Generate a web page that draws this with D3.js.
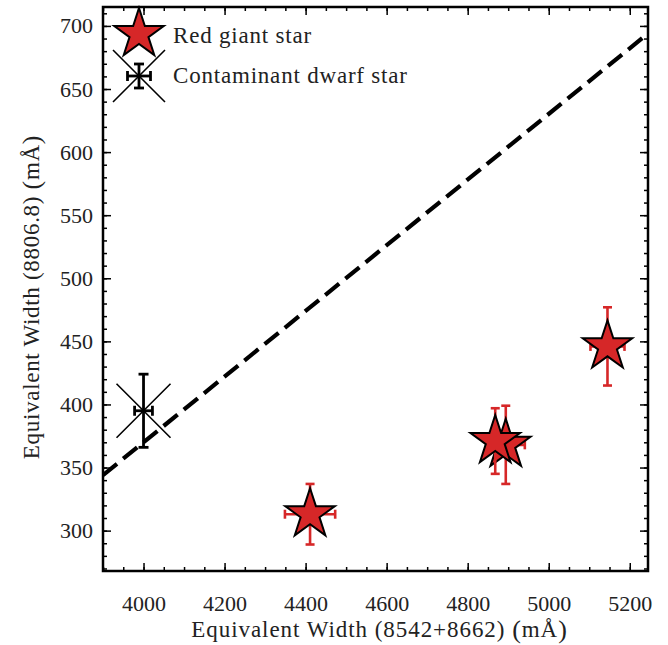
<!DOCTYPE html>
<html>
<head>
<meta charset="utf-8">
<script src="https://cdn.jsdelivr.net/npm/d3@7"></script>
<style>
  body { margin: 0; background: #fff; }
  text { font-family: "Liberation Serif", "Times New Roman", serif; fill: #222; }
</style>
</head>
<body>
<svg id="chart" width="668" height="645"></svg>
<script>
// red giant stars (drawn in this order)
var giantEW = [4411, 4894, 4868, 5145];
var giantEW8806 = [313, 368, 371, 446];
var giantErrX = [62, 47, 22, 42];
var giantErrY = [24, 31, 26, 31];

// contaminant dwarf star
var dwarfEW = [4000];
var dwarfEW8806 = [395];
var dwarfErrX = [22];
var dwarfErrY = [29];

// dividing line
var cutEW = [3900, 5245];
var cutEW8806 = [344, 694];

var xTicks = [4000, 4200, 4400, 4600, 4800, 5000, 5200];
var yTicks = [300, 350, 400, 450, 500, 550, 600, 650, 700];

var legendLabels = ['Red giant star', 'Contaminant dwarf star'];

(function () {
  'use strict';

  var red = '#d62728';
  var margin = {top: 7, right: 20, bottom: 74, left: 103};
  var width = 668 - margin.left - margin.right;
  var height = 645 - margin.top - margin.bottom;

  var svg = d3.select('#chart');
  var g = svg.append('g').attr('transform', 'translate(' + margin.left + ',' + margin.top + ')');

  var x = d3.scaleLinear().domain([3900, 5245]).range([0, width]);
  var y = d3.scaleLinear().domain([268, 715]).range([height, 0]);

  svg.append('defs').append('clipPath').attr('id', 'plotclip')
    .append('rect').attr('width', width).attr('height', height);

  // axes: inward ticks on all four sides
  var xMinor = d3.range(3900, 5250, 50);
  var yMinor = d3.range(270, 716, 10);

  function styleAxis(sel) {
    sel.attr('font-family', null).attr('font-size', null);
    sel.select('.domain').remove();
    sel.selectAll('line').attr('stroke', '#000').attr('stroke-width', 1.5);
    sel.selectAll('text').attr('font-size', 22).attr('fill', '#222');
  }

  g.append('g').attr('transform', 'translate(0,' + height + ')')
    .call(d3.axisBottom(x).tickValues(xMinor).tickFormat('').tickSize(-4).tickSizeOuter(0)).call(styleAxis);
  g.append('g').attr('transform', 'translate(0,' + height + ')')
    .call(d3.axisBottom(x).tickValues(xTicks).tickFormat(d3.format('d')).tickSize(-8).tickPadding(24).tickSizeOuter(0))
    .call(styleAxis);
  g.append('g')
    .call(d3.axisTop(x).tickValues(xMinor).tickFormat('').tickSize(-4).tickSizeOuter(0)).call(styleAxis);
  g.append('g')
    .call(d3.axisTop(x).tickValues(xTicks).tickFormat('').tickSize(-8).tickSizeOuter(0)).call(styleAxis);

  g.append('g')
    .call(d3.axisLeft(y).tickValues(yMinor).tickFormat('').tickSize(-4).tickSizeOuter(0)).call(styleAxis);
  g.append('g')
    .call(d3.axisLeft(y).tickValues(yTicks).tickFormat(d3.format('d')).tickSize(-8).tickPadding(10).tickSizeOuter(0))
    .call(styleAxis);
  g.append('g').attr('transform', 'translate(' + width + ',0)')
    .call(d3.axisRight(y).tickValues(yMinor).tickFormat('').tickSize(-4).tickSizeOuter(0)).call(styleAxis);
  g.append('g').attr('transform', 'translate(' + width + ',0)')
    .call(d3.axisRight(y).tickValues(yTicks).tickFormat('').tickSize(-8).tickSizeOuter(0)).call(styleAxis);

  // dashed dividing line
  g.append('path')
    .datum(d3.zip(cutEW, cutEW8806))
    .attr('clip-path', 'url(#plotclip)')
    .attr('fill', 'none')
    .attr('stroke', '#000')
    .attr('stroke-width', 4.2)
    .attr('stroke-dasharray', '18,8')
    .attr('d', d3.line().x(function (d) { return x(d[0]); }).y(function (d) { return y(d[1]); }));

  var star = d3.symbol().type(d3.symbolStar).size(760);

  function errorBar(parent, cx, cy, ex0, ex1, ey0, ey1, color, lw, cap) {
    var e = parent.append('g').attr('stroke', color).attr('stroke-width', lw).attr('fill', 'none');
    e.append('line').attr('x1', ex0).attr('x2', ex1).attr('y1', cy).attr('y2', cy);
    e.append('line').attr('x1', cx).attr('x2', cx).attr('y1', ey0).attr('y2', ey1);
    [ex0, ex1].forEach(function (v) {
      e.append('line').attr('x1', v).attr('x2', v).attr('y1', cy - cap).attr('y2', cy + cap);
    });
    [ey0, ey1].forEach(function (v) {
      e.append('line').attr('y1', v).attr('y2', v).attr('x1', cx - cap).attr('x2', cx + cap);
    });
  }

  function cross(parent, cx, cy, r) {
    parent.append('path')
      .attr('d', 'M' + (cx - r) + ',' + (cy - r) + 'L' + (cx + r) + ',' + (cy + r) +
                 'M' + (cx - r) + ',' + (cy + r) + 'L' + (cx + r) + ',' + (cy - r))
      .attr('stroke', '#000').attr('stroke-width', 1.6).attr('fill', 'none');
  }

  // dwarf
  dwarfEW.forEach(function (v, i) {
    var cx = x(v), cy = y(dwarfEW8806[i]);
    cross(g, cx, cy, 27);
    errorBar(g, cx, cy, x(v - dwarfErrX[i]), x(v + dwarfErrX[i]),
      y(dwarfEW8806[i] + dwarfErrY[i]), y(dwarfEW8806[i] - dwarfErrY[i]), '#000', 2.8, 5);
  });

  // giants
  giantEW.forEach(function (v, i) {
    var cx = x(v), cy = y(giantEW8806[i]);
    errorBar(g, cx, cy, x(v - giantErrX[i]), x(v + giantErrX[i]),
      y(giantEW8806[i] + giantErrY[i]), y(giantEW8806[i] - giantErrY[i]), red, 2.6, 4.5);
    g.append('path').attr('d', star)
      .attr('transform', 'translate(' + cx + ',' + cy + ')')
      .attr('fill', red).attr('stroke', '#000').attr('stroke-width', 2).attr('stroke-linejoin', 'miter');
  });

  // frame
  g.append('rect').attr('width', width).attr('height', height)
    .attr('fill', 'none').attr('stroke', '#000').attr('stroke-width', 2.5);

  // legend
  var lg = g.append('g').attr('transform', 'translate(36,0)');
  lg.append('path').attr('d', star).attr('transform', 'translate(0,27)')
    .attr('fill', red).attr('stroke', '#000').attr('stroke-width', 2);
  cross(lg, 0, 69, 26);
  errorBar(lg, 0, 69, -11.5, 11.5, 57, 81, '#000', 2.8, 5);
  lg.selectAll('text.leg').data(legendLabels).enter().append('text')
    .attr('class', 'leg')
    .attr('x', 34)
    .attr('y', function (d, i) { return 36 + i * 40; })
    .attr('font-size', 23)
    .attr('letter-spacing', 0.8)
    .text(function (d) { return d; });

  // axis titles
  var xt = svg.append('text')
    .attr('x', margin.left + width / 2 + 4)
    .attr('y', 637)
    .attr('text-anchor', 'middle')
    .attr('font-size', 23)
    .attr('letter-spacing', 0.95);
  xt.append('tspan').text('Equivalent Width (8542+8662) ');
  xt.append('tspan').attr('font-size', 26).attr('dy', 1).text('(');
  xt.append('tspan').attr('font-size', 23).attr('dy', -1).text('mÅ');
  xt.append('tspan').attr('font-size', 26).attr('dy', 1).text(')');

  var yt = svg.append('text')
    .attr('transform', 'translate(39,' + (margin.top + height / 2 + 8) + ') rotate(-90)')
    .attr('text-anchor', 'middle')
    .attr('font-size', 23)
    .attr('letter-spacing', 0.7);
  yt.append('tspan').text('Equivalent Width (8806.8) ');
  yt.append('tspan').attr('font-size', 26).attr('dy', 1).text('(');
  yt.append('tspan').attr('font-size', 23).attr('dy', -1).text('mÅ');
  yt.append('tspan').attr('font-size', 26).attr('dy', 1).text(')');
})();
</script>
</body>
</html>
